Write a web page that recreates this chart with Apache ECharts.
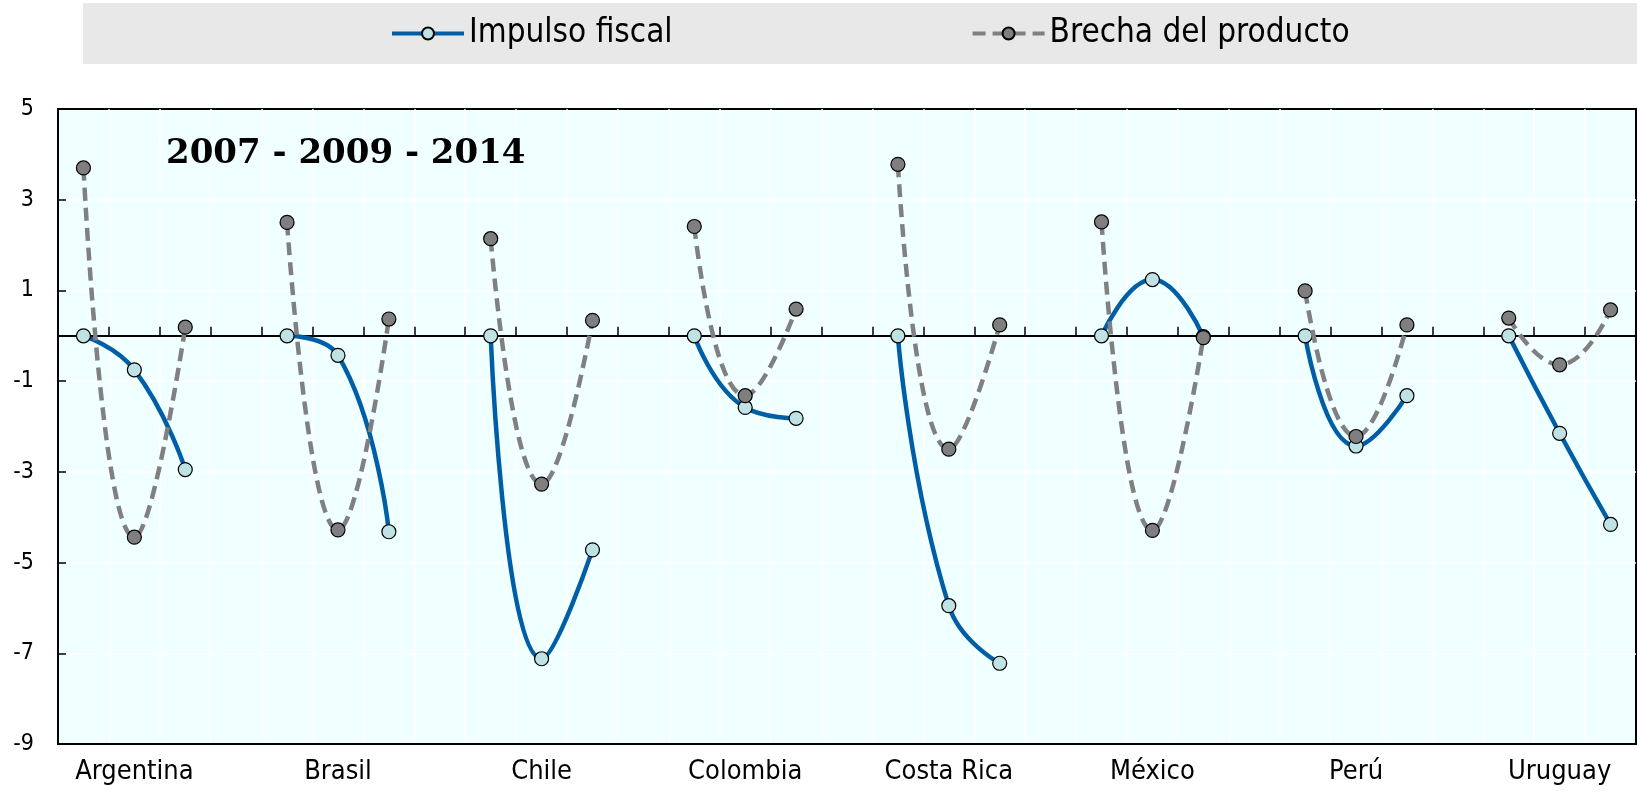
<!DOCTYPE html>
<html>
<head>
<meta charset="utf-8">
<script src="https://cdn.jsdelivr.net/npm/echarts@6/dist/echarts.min.js"></script>
<style>
html,body{margin:0;padding:0;background:#fff;}
#chart{width:1637px;height:793px;}
</style>
</head>
<body>
<div id="chart"></div>
<script>
// ---- Data ----
const countries = ['Argentina', 'Brasil', 'Chile', 'Colombia', 'Costa Rica', 'México', 'Perú', 'Uruguay'];
const years = ['2007', '2009', '2014'];
const impulsoFiscal = [
  0, -0.75, -2.95,   // Argentina
  0, -0.43, -4.32,   // Brasil
  0, -7.12, -4.72,   // Chile
  0, -1.58, -1.82,   // Colombia
  0, -5.95, -7.22,   // Costa Rica
  0, 1.24, -0.02,    // México
  0, -2.43, -1.32,   // Perú
  0, -2.15, -4.16    // Uruguay
];
const brechaProducto = [
  3.70, -4.44, 0.19,
  2.50, -4.28, 0.37,
  2.14, -3.27, 0.34,
  2.41, -1.32, 0.59,
  3.78, -2.50, 0.24,
  2.51, -4.29, -0.04,
  0.99, -2.22, 0.24,
  0.39, -0.64, 0.57
];
const seriesNames = ['Impulso fiscal', 'Brecha del producto'];
const titleText = '2007 - 2009 - 2014';
const yMin = -9, yMax = 5, yInterval = 2;

// ---- Build category slots (3 years per country + 1 gap between countries) ----
const categories = [];
const slotImpulso = [];
const slotBrecha = [];
countries.forEach((c, i) => {
  years.forEach((y, j) => {
    categories.push(c + ' ' + y);
    slotImpulso.push(impulsoFiscal[i * 3 + j]);
    slotBrecha.push(brechaProducto[i * 3 + j]);
  });
  if (i < countries.length - 1) {
    categories.push('gap ' + i);
    slotImpulso.push(null);
    slotBrecha.push(null);
  }
});

const narrow = "'Liberation Sans Narrow', 'Arial Narrow', 'DejaVu Sans Condensed', sans-serif";

const chart = echarts.init(document.getElementById('chart'), null, {renderer: 'canvas'});
chart.setOption({
  animation: false,
  graphic: [{
    type: 'rect',
    left: 83, top: 3,
    shape: {width: 1637 - 83, height: 61},
    style: {fill: '#E8E8E8'},
    z: -10
  }],
  title: {
    text: titleText,
    left: 166,
    top: 137,
    padding: 0,
    textStyle: {fontFamily: "'DejaVu Serif', 'Liberation Serif', serif", fontWeight: 'bold', fontSize: 34, color: '#000'}
  },
  legend: {
    left: 390,
    top: 17,
    padding: 0,
    itemGap: 298,
    itemWidth: 72,
    itemHeight: 15,
    lineStyle: {width: 4},
    textStyle: {fontFamily: narrow, fontSize: 33, color: '#000'},
    data: seriesNames
  },
  grid: {
    left: 58, right: 1, top: 109, bottom: 49,
    show: true,
    backgroundColor: '#F0FFFF',
    borderColor: '#000',
    borderWidth: 2
  },
  xAxis: [{
    type: 'category',
    data: categories,
    boundaryGap: true,
    position: 'bottom',
    axisLine: {show: true, onZero: true, lineStyle: {color: '#000', width: 2}},
    axisTick: {show: true, inside: true, length: 9, interval: 0, lineStyle: {color: '#000', width: 1.5}},
    axisLabel: {show: false},
    splitLine: {show: true, interval: 0, showMinLine: false, showMaxLine: false, lineStyle: {color: '#FFFFFF', width: 1.5}}
  }, {
    type: 'category',
    data: categories,
    boundaryGap: true,
    position: 'bottom',
    axisLine: {show: true, onZero: false, lineStyle: {color: '#000', width: 2}},
    axisTick: {show: false},
    splitLine: {show: false},
    axisLabel: {
      show: true,
      interval: 0,
      margin: 14,
      fontFamily: narrow,
      fontSize: 27,
      color: '#000',
      formatter: function (v, idx) {
        return (idx % 4 === 1) ? countries[Math.floor(idx / 4)] : '';
      }
    }
  }],
  yAxis: {
    type: 'value',
    min: yMin, max: yMax, interval: yInterval,
    axisLine: {show: true, lineStyle: {color: '#000', width: 2}},
    axisTick: {show: true, inside: true, length: 8, lineStyle: {color: '#000', width: 1.5}},
    axisLabel: {fontFamily: narrow, fontSize: 23, color: '#000', margin: 24},
    splitLine: {show: true, showMinLine: false, showMaxLine: false, lineStyle: {color: '#FFFFFF', width: 1.5}}
  },
  series: [{
    name: seriesNames[0],
    type: 'line',
    xAxisIndex: 0,
    data: slotImpulso,
    smooth: 0.5,
    connectNulls: false,
    symbol: 'circle',
    symbolSize: 14,
    showAllSymbol: true,
    lineStyle: {color: '#005EA6', width: 4.5},
    itemStyle: {color: '#BFE2E4', borderColor: '#000', borderWidth: 1.2},
    z: 3
  }, {
    name: seriesNames[1],
    type: 'line',
    xAxisIndex: 0,
    data: slotBrecha,
    smooth: 0.5,
    connectNulls: false,
    symbol: 'circle',
    symbolSize: 14,
    showAllSymbol: true,
    lineStyle: {color: '#808080', width: 4.5, type: [13, 7]},
    itemStyle: {color: '#7F7F7F', borderColor: '#000', borderWidth: 1.2},
    z: 4
  }]
});
</script>
</body>
</html>
